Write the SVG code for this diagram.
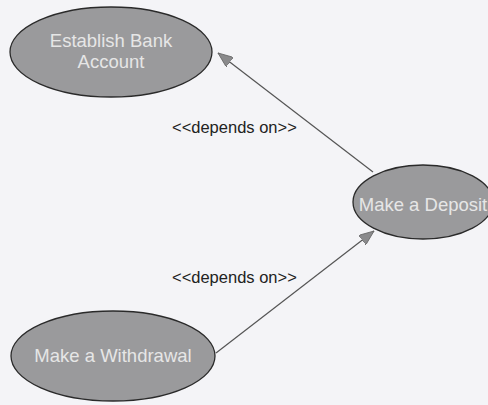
<svg xmlns="http://www.w3.org/2000/svg" width="488" height="405" viewBox="0 0 488 405">
<style>
.uc{fill:#9a9a9c;stroke:#2a2a2a;stroke-width:1.3}
.ut{font-family:"Liberation Sans",Arial,sans-serif;font-size:18.5px;fill:#e6e6e6;text-anchor:middle}
.lbl{font-family:"Liberation Sans",Arial,sans-serif;font-size:16.5px;fill:#222}
.edge{stroke:#555;stroke-width:1.2;fill:none;marker-end:url(#arr)}
</style>
<defs>
<marker id="arr" markerWidth="16" markerHeight="12" refX="15" refY="6" orient="auto" markerUnits="userSpaceOnUse">
<path d="M0,0 L15,6 L0,12 Z" fill="#8a8a8c" stroke="#666" stroke-width="0.8"/>
</marker>
</defs>
<rect width="488" height="405" fill="#f4f4f7"/>
<g id="connectors">
<line class="edge" x1="373" y1="172" x2="218" y2="53"/>
<line class="edge" x1="216" y1="353" x2="374" y2="231"/>
<text class="lbl" x="172" y="133">&lt;&lt;depends on&gt;&gt;</text>
<text class="lbl" x="172" y="283">&lt;&lt;depends on&gt;&gt;</text>
</g>
<g id="establish">
<ellipse class="uc" cx="111" cy="52" rx="101" ry="45"/>
<text class="ut" x="111" y="47">Establish Bank</text>
<text class="ut" x="111" y="68">Account</text>
</g>
<g id="deposit">
<ellipse class="uc" cx="423" cy="202" rx="70" ry="37"/>
<text class="ut" x="423" y="211">Make a Deposit</text>
</g>
<g id="withdrawal">
<ellipse class="uc" cx="113" cy="356" rx="102" ry="45"/>
<text class="ut" x="113" y="362">Make a Withdrawal</text>
</g>
</svg>
